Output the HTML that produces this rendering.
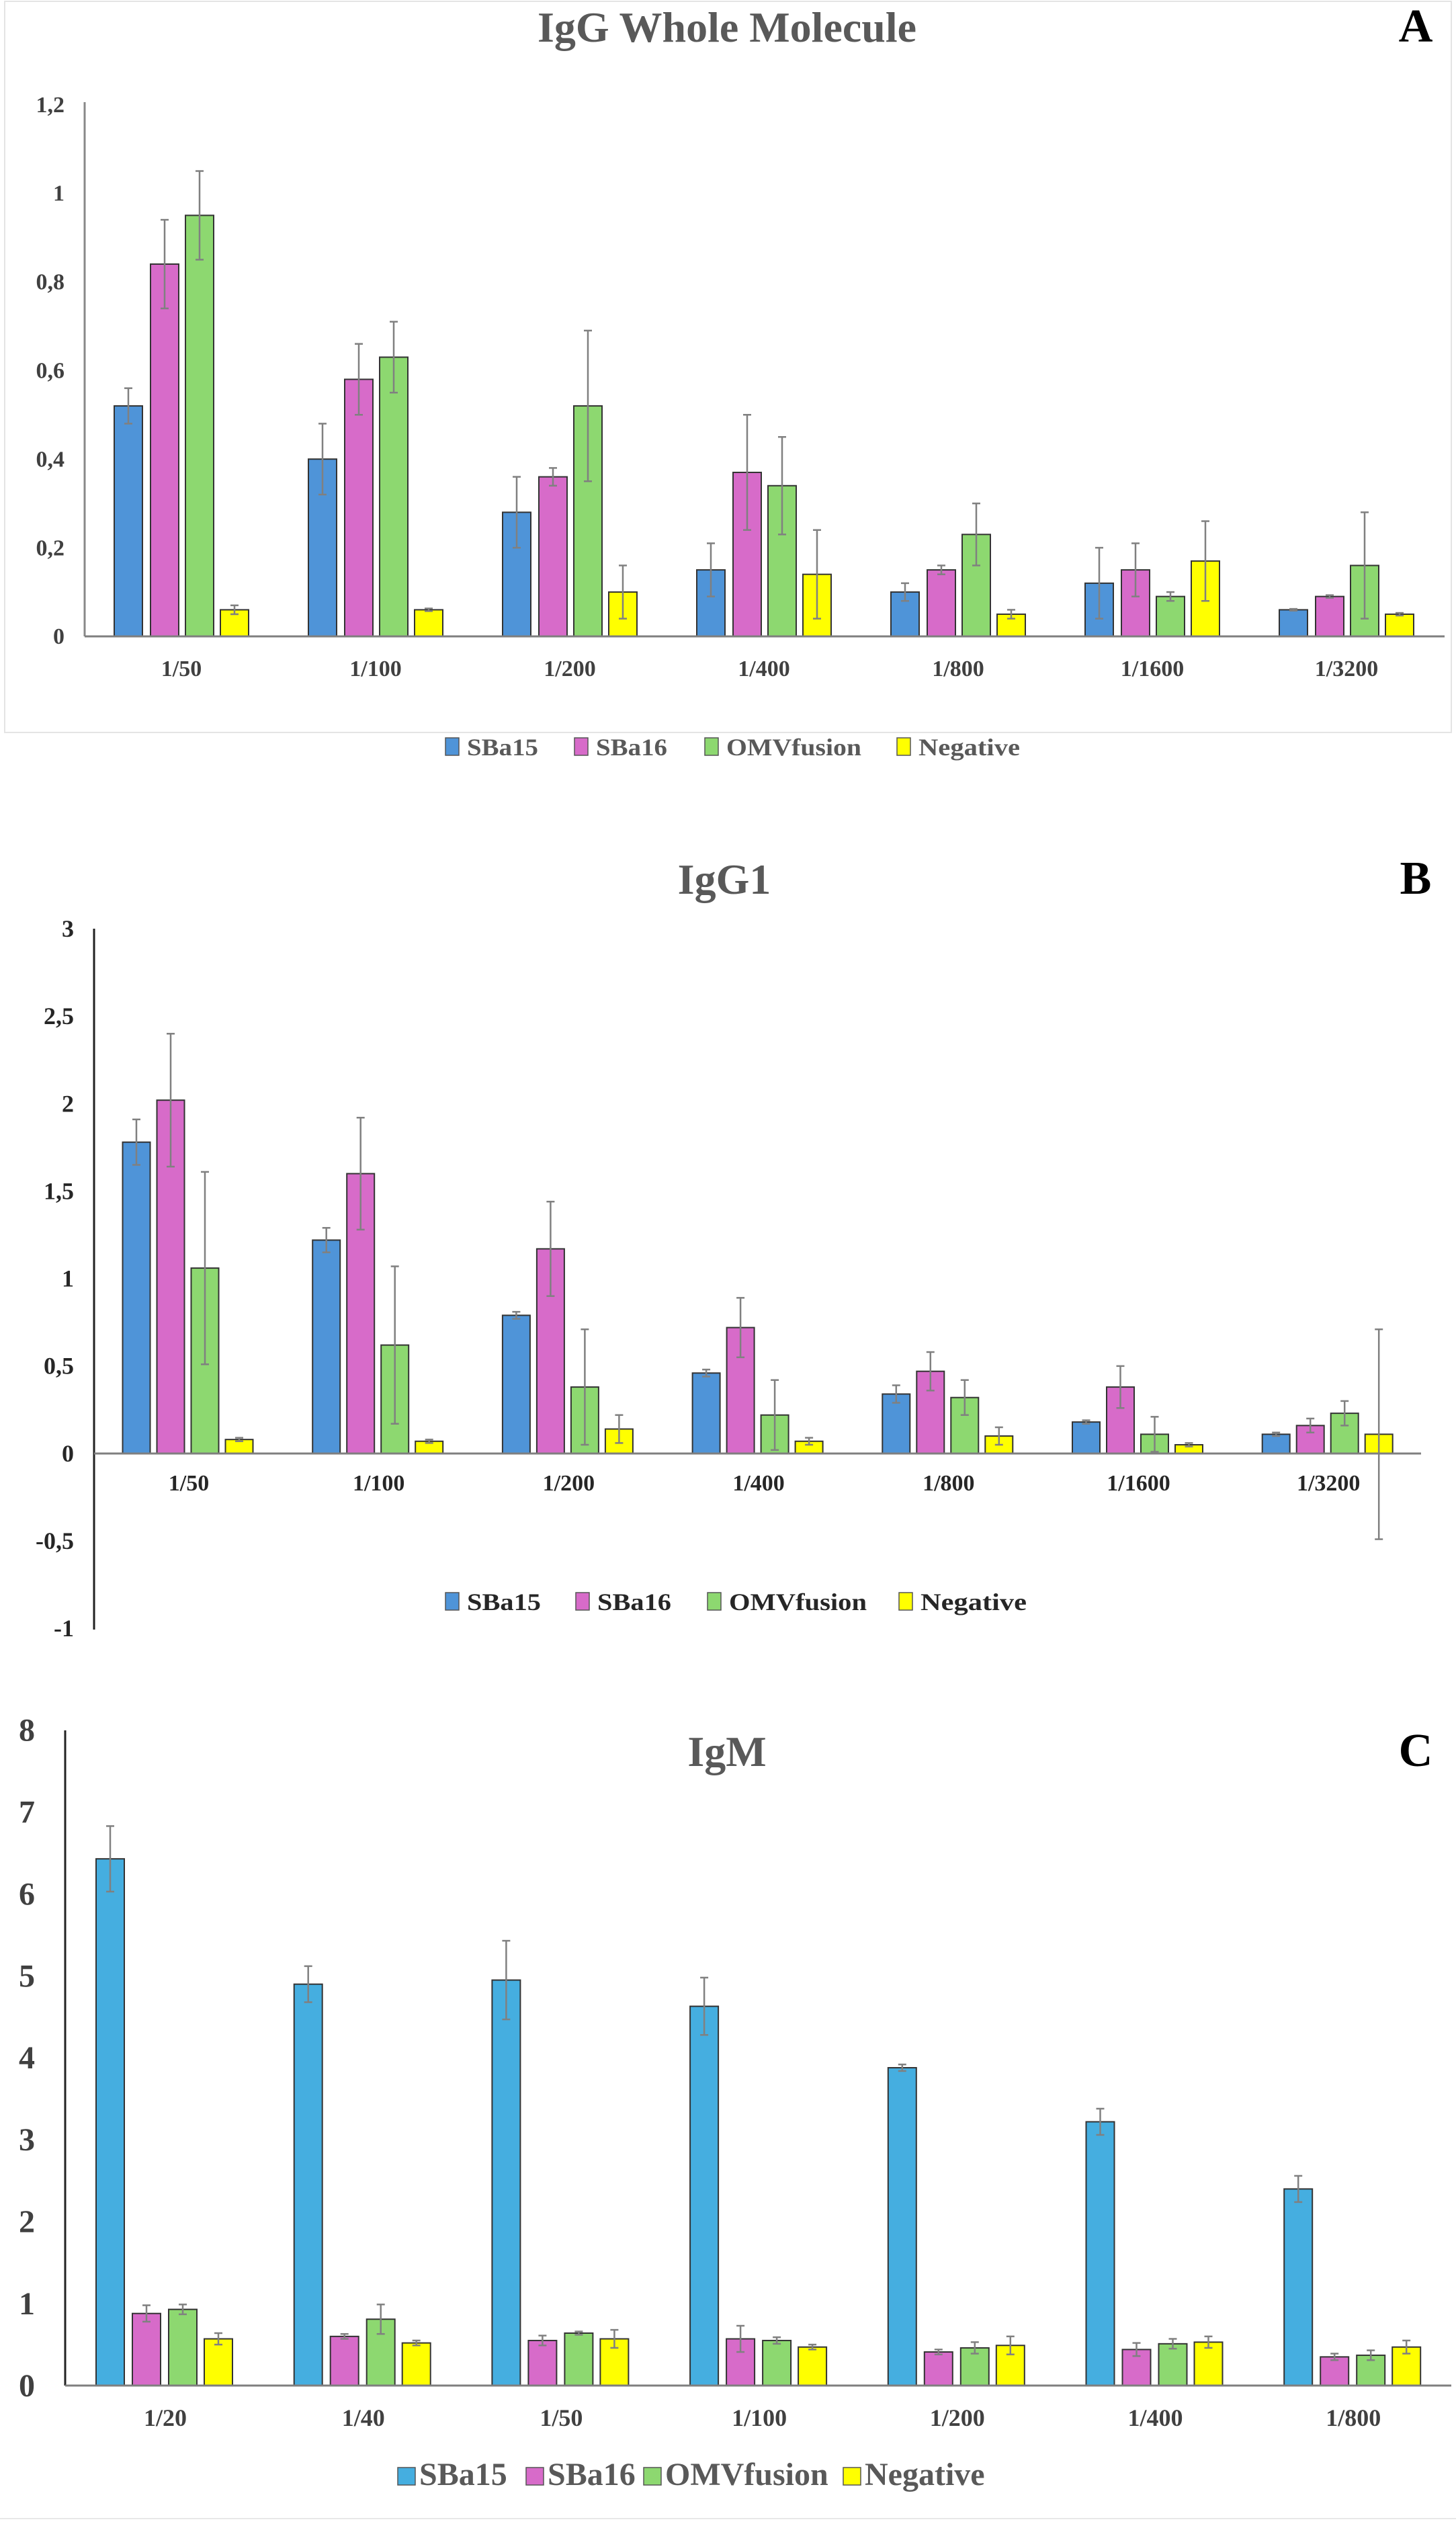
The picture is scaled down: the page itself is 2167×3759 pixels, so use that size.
<!DOCTYPE html>
<html><head><meta charset="utf-8"><style>
html,body{margin:0;padding:0;background:#fff;}
svg{display:block;font-family:"Liberation Serif",serif;font-weight:bold;}
</style></head><body>
<svg id="s" width="2167" height="3759" viewBox="0 0 2167 3759" xmlns="http://www.w3.org/2000/svg">
<rect x="7" y="2" width="2153" height="1088" fill="none" stroke="#e4e4e4" stroke-width="2"/>
<line x1="0" y1="3748" x2="2167" y2="3748" stroke="#e8e8e8" stroke-width="2"/>
</svg>
<script>
const seriesNames=["SBa15","SBa16","OMVfusion","Negative"];
const catsA=["1/50","1/100","1/200","1/400","1/800","1/1600","1/3200"];
const a_sba15=[0.52,0.40,0.28,0.15,0.10,0.12,0.06];
const a_sba16=[0.84,0.58,0.36,0.37,0.15,0.15,0.09];
const a_omv=[0.95,0.63,0.52,0.34,0.23,0.09,0.16];
const a_neg=[0.06,0.06,0.10,0.14,0.05,0.17,0.05];
const a_err15=[0.04,0.08,0.08,0.06,0.02,0.08,0.002];
const a_err16=[0.10,0.08,0.02,0.13,0.01,0.06,0.003];
const a_errO=[0.10,0.08,0.17,0.11,0.07,0.01,0.12];
const a_errN=[0.01,0.003,0.06,0.10,0.01,0.09,0.003];
const ticksA=["0","0,2","0,4","0,6","0,8","1","1,2"];
const tickValsA=[0,0.2,0.4,0.6,0.8,1,1.2];

const catsB=["1/50","1/100","1/200","1/400","1/800","1/1600","1/3200"];
const b_sba15=[1.78,1.22,0.79,0.46,0.34,0.18,0.11];
const b_sba16=[2.02,1.60,1.17,0.72,0.47,0.38,0.16];
const b_omv=[1.06,0.62,0.38,0.22,0.32,0.11,0.23];
const b_neg=[0.08,0.07,0.14,0.07,0.10,0.05,0.11];
const b_err15=[0.13,0.07,0.02,0.02,0.05,0.01,0.01];
const b_err16=[0.38,0.32,0.27,0.17,0.11,0.12,0.04];
const b_errO=[0.55,0.45,0.33,0.20,0.10,0.10,0.07];
const b_errN=[0.01,0.01,0.08,0.02,0.05,0.01,0.60];
const ticksB=["-1","-0,5","0","0,5","1","1,5","2","2,5","3"];
const tickValsB=[-1,-0.5,0,0.5,1,1.5,2,2.5,3];

const catsC=["1/20","1/40","1/50","1/100","1/200","1/400","1/800"];
const c_sba15=[6.43,4.90,4.95,4.63,3.88,3.22,2.40];
const c_sba16=[0.88,0.60,0.55,0.57,0.41,0.44,0.35];
const c_omv=[0.93,0.81,0.64,0.55,0.46,0.51,0.37];
const c_neg=[0.57,0.52,0.57,0.47,0.49,0.53,0.47];
const c_err15=[0.40,0.22,0.48,0.35,0.04,0.16,0.16];
const c_err16=[0.10,0.03,0.06,0.16,0.03,0.08,0.04];
const c_errO=[0.06,0.18,0.02,0.04,0.07,0.06,0.06];
const c_errN=[0.07,0.03,0.11,0.03,0.11,0.07,0.08];
const ticksC=["0","1","2","3","4","5","6","7","8"];
const tickValsC=[0,1,2,3,4,5,6,7,8];

const NS="http://www.w3.org/2000/svg";
const svg=document.getElementById('s');
function mk(tag,attrs,parent){const e=document.createElementNS(NS,tag);for(const k in attrs)e.setAttribute(k,attrs[k]);(parent||svg).appendChild(e);return e;}
function txt(s,attrs,parent){const e=mk('text',attrs,parent);e.textContent=s;return e;}

function chart(cfg){
  const g=mk('g',{});
  
  
  const y=v=>cfg.zeroY-v*cfg.unit;
  const x=i=>cfg.x0+i*cfg.step;
  const ax=mk('line',{x1:cfg.axX,y1:cfg.axTop,x2:cfg.axX,y2:cfg.axBot,stroke:cfg.axColor,'stroke-width':3},g);
  
  
  cfg.tickVals.forEach((v,i)=>{
    const t=txt(cfg.ticks[i],{x:cfg.tickX,y:y(v)+cfg.tickFs*0.33,'font-size':cfg.tickFs,fill:cfg.tickCol,'text-anchor':cfg.tickAnchor},g);
    
    
  });
  const series=[cfg.s0,cfg.s1,cfg.s2,cfg.s3];
  const errs=[cfg.e0,cfg.e1,cfg.e2,cfg.e3];
  cfg.cats.forEach((c,i)=>{
    series.forEach((arr,k)=>{
      const cx=x(i)+cfg.offs[k];
      const v=arr[i];
      const top=Math.min(y(v),y(0)),h=Math.abs(y(v)-y(0));
      const r=mk('rect',{x:cx-cfg.bw/2,y:top,width:cfg.bw,height:h,fill:cfg.colors[k],stroke:'#333','stroke-width':2},g);
      
      
      const e=errs[k][i];
      const eg=mk('g',{stroke:'#808080','stroke-width':2.5},g);
      
      
      mk('line',{x1:cx,y1:y(v+e),x2:cx,y2:y(v-e)},eg);
      mk('line',{x1:cx-6,y1:y(v+e),x2:cx+6,y2:y(v+e)},eg);
      mk('line',{x1:cx-6,y1:y(v-e),x2:cx+6,y2:y(v-e)},eg);
    });
    const l=txt(c,{x:x(i),y:cfg.labY,'font-size':cfg.labFs,fill:cfg.tickCol,'text-anchor':'middle'},g);
    
    
  });
  const zl=mk('line',{x1:cfg.axX,y1:y(0),x2:cfg.axRight,y2:y(0),stroke:'#7f7f7f','stroke-width':3},g);
  
  
  const tt=txt(cfg.title,{x:cfg.titleX,y:cfg.titleY,'font-size':cfg.titleFs,fill:'#595959','text-anchor':'middle'},g);
  
  
  const pl=txt(cfg.letter,{x:2107,y:cfg.titleY,'font-size':cfg.titleFs*1.1,fill:'#000','text-anchor':'middle'},g);
  
  
  const lg=mk('g',{},g);
  
  
  seriesNames.forEach((n,k)=>{
    const lx=cfg.legXs[k];
    const sw=cfg.swW, sh=cfg.swH;
    const it=mk('g',{},lg);
    
    
    mk('rect',{x:lx,y:cfg.legY-sh,width:sw,height:sh,fill:cfg.colors[k],stroke:'#555','stroke-width':1.5},it);
    const t=txt(n,{x:lx+sw+cfg.txtGap,y:cfg.legY,'font-size':cfg.legFs,fill:cfg.legCol},it);
    if(cfg.legW){t.setAttribute('textLength',cfg.legW[k]);t.setAttribute('lengthAdjust','spacingAndGlyphs');}
  });
}

chart({id:'igg',title:'IgG Whole Molecule',letter:'A',titleX:1082,titleY:62,titleFs:64,
  cats:catsA,s0:a_sba15,s1:a_sba16,s2:a_omv,s3:a_neg,e0:a_err15,e1:a_err16,e2:a_errO,e3:a_errN,
  ticks:ticksA,tickVals:tickValsA,zeroY:947,unit:659.5,x0:270,step:289,offs:[-79,-25,27,79],bw:42,
  axX:126,axTop:152,axBot:947,axRight:2150,axColor:'#888',tickX:96,tickAnchor:'end',tickFs:34,tickCol:'#404040',
  labY:1006,labFs:34,legXs:[663,855,1049,1335],legW:[106,106,201,151],swW:20,swH:26,txtGap:12,legY:1124,legFs:36,legCol:'#595959',
  colors:['#4F94D8','#D76BC9','#8DD870','#FFFF00']});

chart({id:'igg1',title:'IgG1',letter:'B',titleX:1078,titleY:1330,titleFs:64,
  cats:catsB,s0:b_sba15,s1:b_sba16,s2:b_omv,s3:b_neg,e0:b_err15,e1:b_err16,e2:b_errO,e3:b_errN,
  ticks:ticksB,tickVals:tickValsB,zeroY:2163,unit:260.3,x0:281,step:282.7,offs:[-78,-27,24,75],bw:41,
  axX:140,axTop:1382,axBot:2425,axRight:2115,axColor:'#222',tickX:110,tickAnchor:'end',tickFs:36,tickCol:'#262626',
  labY:2218,labFs:34,legXs:[663,857,1053,1338],legW:[110,110,205,158],swW:20,swH:26,txtGap:12,legY:2396,legFs:36,legCol:'#262626',
  colors:['#4F94D8','#D76BC9','#8DD870','#FFFF00']});

chart({id:'igm',title:'IgM',letter:'C',titleX:1082,titleY:2628,titleFs:64,
  cats:catsC,s0:c_sba15,s1:c_sba16,s2:c_omv,s3:c_neg,e0:c_err15,e1:c_err16,e2:c_errO,e3:c_errN,
  ticks:ticksC,tickVals:tickValsC,zeroY:3550,unit:121.9,x0:246,step:294.7,offs:[-82,-28,26,79],bw:42,
  axX:97,axTop:2575,axBot:3550,axRight:2160,axColor:'#222',tickX:40,tickAnchor:'middle',tickFs:48,tickCol:'#404040',
  labY:3610,labFs:36,legXs:[592,783,958,1255],swW:26,swH:26,txtGap:6,legY:3698,legFs:48,legCol:'#595959',
  colors:['#45AEE0','#D76BC9','#8DD870','#FFFF00']});
</script>
</body></html>
